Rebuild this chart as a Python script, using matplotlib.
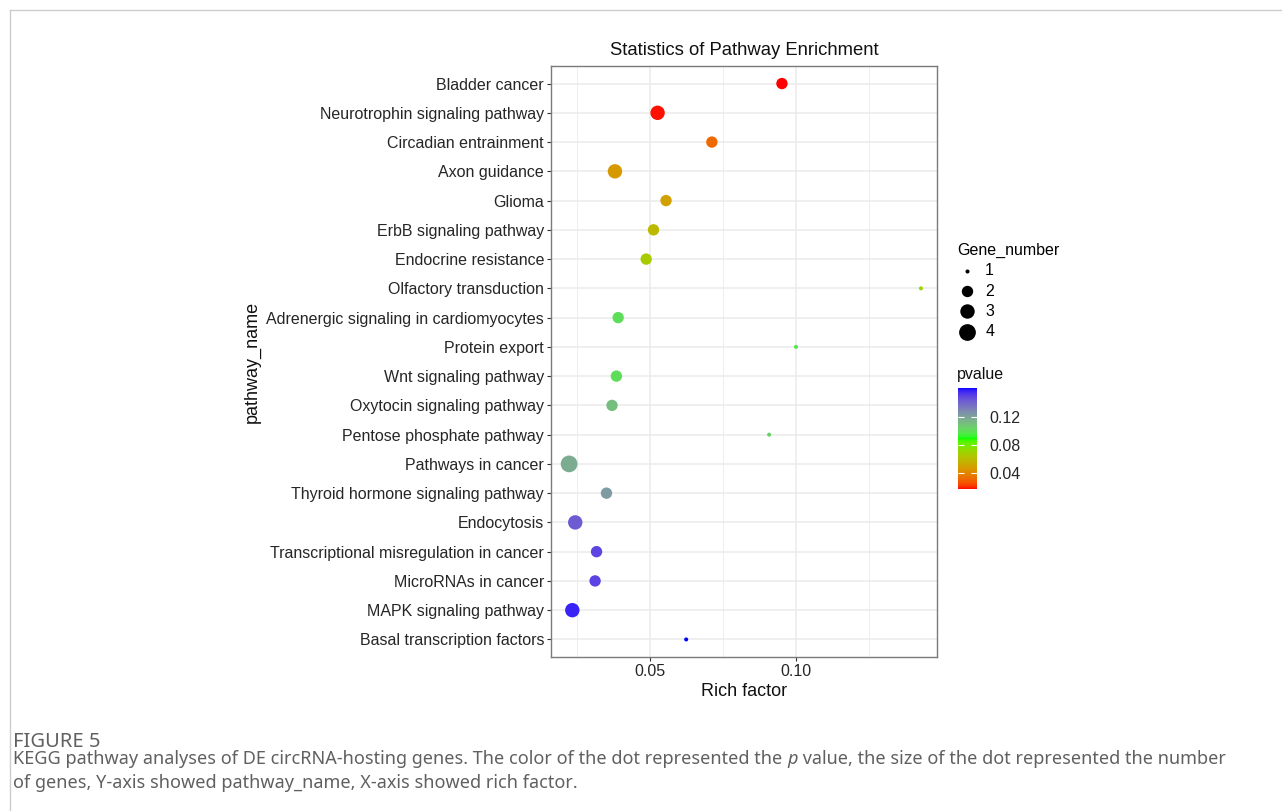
import numpy as np
import matplotlib
matplotlib.use("Agg")
import matplotlib.pyplot as plt
from matplotlib.colors import ListedColormap, Normalize
from matplotlib.lines import Line2D

# data
pathways = ["Bladder cancer", "Neurotrophin signaling pathway", "Circadian entrainment",
            "Axon guidance", "Glioma", "ErbB signaling pathway", "Endocrine resistance",
            "Olfactory transduction", "Adrenergic signaling in cardiomyocytes",
            "Protein export", "Wnt signaling pathway", "Oxytocin signaling pathway",
            "Pentose phosphate pathway", "Pathways in cancer",
            "Thyroid hormone signaling pathway", "Endocytosis",
            "Transcriptional misregulation in cancer", "MicroRNAs in cancer",
            "MAPK signaling pathway", "Basal transcription factors"]
rich_factor = [0.0952, 0.0526, 0.0712, 0.0380, 0.0555, 0.0512, 0.0487, 0.1428,
               0.0391, 0.1000, 0.0385, 0.0370, 0.0908, 0.0223, 0.0351, 0.0244,
               0.0317, 0.0312, 0.0234, 0.0624]
gene_number = [2, 3, 2, 3, 2, 2, 2, 1, 2, 1, 2, 2, 1, 4, 2, 3, 2, 2, 3, 1]
pvalue = [0.0171, 0.0182, 0.0315, 0.0467, 0.0495, 0.0590, 0.0665, 0.0710,
          0.1000, 0.0980, 0.1000, 0.1110, 0.1050, 0.1170, 0.1230, 0.1430,
          0.1490, 0.1500, 0.1570, 0.1614]
size_levels = [1, 2, 3, 4]
cbar_ticks = [0.04, 0.08, 0.12]
x_ticks = [0.05, 0.10]


def srgb_to_lab(rgb):
    rgb = np.asarray(rgb, float)
    c = np.where(rgb <= 0.04045, rgb / 12.92, ((rgb + 0.055) / 1.055) ** 2.4)
    m = np.array([[0.4124, 0.3576, 0.1805],
                  [0.2126, 0.7152, 0.0722],
                  [0.0193, 0.1192, 0.9505]])
    xyz = c @ m.T / np.array([0.95047, 1.0, 1.08883])
    f = np.where(xyz > 0.008856, np.cbrt(xyz), 7.787 * xyz + 16 / 116)
    return np.stack([116 * f[..., 1] - 16, 500 * (f[..., 0] - f[..., 1]),
                     200 * (f[..., 1] - f[..., 2])], axis=-1)


def lab_to_srgb(lab):
    L, a, b = lab[..., 0], lab[..., 1], lab[..., 2]
    fy = (L + 16) / 116
    fx = fy + a / 500
    fz = fy - b / 200
    f = np.stack([fx, fy, fz], axis=-1)
    xyz = np.where(f > 0.206893, f ** 3, (f - 16 / 116) / 7.787)
    xyz = xyz * np.array([0.95047, 1.0, 1.08883])
    minv = np.array([[3.2406, -1.5372, -0.4986],
                     [-0.9689, 1.8758, 0.0415],
                     [0.0557, -0.2040, 1.0570]])
    c = np.clip(xyz @ minv.T, 0, 1)
    return np.where(c <= 0.0031308, 12.92 * c, 1.055 * c ** (1 / 2.4) - 0.055).clip(0, 1)


def lab_ramp(colors, n=256):
    # ggplot style colour ramp, interpolated in CIELAB
    labs = srgb_to_lab(np.array(colors))
    pos = np.linspace(0, 1, len(colors))
    t = np.linspace(0, 1, n)
    out = np.stack([np.interp(t, pos, labs[:, k]) for k in range(3)], axis=-1)
    return ListedColormap(lab_to_srgb(out))


def point_area(n):
    # scale_size: sqrt of rescaled value onto 1..6 mm
    size_mm = 1 + 5 * np.sqrt((np.asarray(n, float) - 1) / 3)
    d_px = 1.5 + 2.54 * size_mm
    return (d_px * 0.72) ** 2


cmap = lab_ramp([[1, 0, 0], [0, 1, 0], [0, 0, 1]])
norm = Normalize(vmin=min(pvalue), vmax=max(pvalue))

plt.rcParams['font.family'] = ['Liberation Sans', 'DejaVu Sans']
W, H = 1282, 811
fig = plt.figure(figsize=(W / 100, H / 100), dpi=100)

ax = fig.add_axes([551 / W, 1 - 657 / H, 386 / W, 591 / H])
ypos = np.arange(len(pathways))
ax.scatter(rich_factor, ypos, s=point_area(gene_number), c=pvalue, cmap=cmap,
           norm=norm, linewidths=0, zorder=3)
ax.set_ylim(len(pathways) - 0.4, -0.6)
ax.set_xlim(0.0161, 0.1483)
ax.set_yticks(ypos)
ax.set_yticklabels(pathways)
ax.set_xticks(x_ticks)
ax.set_xticklabels(["0.05", "0.10"])
ax.set_xticks([0.025, 0.075, 0.125], minor=True)
ax.grid(True, which='major', color='#ebebeb', lw=1.1, zorder=0)
ax.grid(True, which='minor', axis='x', color='#ebebeb', lw=0.6, zorder=0)
ax.set_axisbelow(True)
ax.tick_params(which='major', length=3, width=0.8, color='#333333',
               labelsize=11.5, labelcolor='#262626', pad=2)
ax.tick_params(which='minor', length=0)
for sp in ax.spines.values():
    sp.set_color('#7a7a7a')
    sp.set_linewidth(1.0)
ax.set_xlabel("Rich factor", fontsize=13, color='#111111', labelpad=3)
ax.set_ylabel("pathway_name", fontsize=13, color='#111111', labelpad=4)
ax.set_title("Statistics of Pathway Enrichment", fontsize=13.3, color='#111111', pad=8)

# size legend
handles = [plt.scatter([], [], s=point_area(n), color='black', linewidths=0)
           for n in size_levels]
leg = fig.legend(handles, [str(n) for n in size_levels], title="Gene_number",
                 loc='upper left', bbox_to_anchor=(946 / W, 1 - 232 / H),
                 frameon=False, fontsize=11.5, title_fontsize=11.5,
                 labelspacing=0.32, handletextpad=0.55, borderpad=0.2,
                 handlelength=1.2, alignment='left')

# colour bar
cax = fig.add_axes([958 / W, 1 - 489 / H, 19 / W, 101 / H])
sm = plt.cm.ScalarMappable(norm=norm, cmap=cmap)
cb = fig.colorbar(sm, cax=cax, ticks=cbar_ticks)
cb.outline.set_visible(False)
cb.ax.set_yticklabels(["0.04", "0.08", "0.12"])
cb.ax.yaxis.set_ticks_position('both')
cb.ax.tick_params(direction='in', length=4, width=0.8, color='white',
                  labelsize=11.5, labelcolor='#262626', pad=9, labelleft=False,
                  labelright=True)
fig.text(957 / W, 1 - 375 / H, "pvalue", fontsize=11.5, color='#111111', va='center')

# frame lines and caption
fig.add_artist(Line2D([9.5 / W, 1], [1 - 9.5 / H, 1 - 9.5 / H], color='#cccccc', lw=1.0))
fig.add_artist(Line2D([9.5 / W, 9.5 / W], [0, 1 - 9.5 / H], color='#cccccc', lw=1.0))

cap_font = ['Noto Sans', 'DejaVu Sans']
cap_size = 13.0
cap_color = '#606060'
fig.text(13 / W, 1 - 742 / H, "FIGURE 5", fontsize=14.5, color=cap_color,
         family=cap_font, va='center')
t1 = fig.text(13 / W, 1 - 768 / H,
              "KEGG pathway analyses of DE circRNA-hosting genes. The color of the dot represented the ",
              fontsize=cap_size, color=cap_color, family=cap_font, va='bottom')
fig.canvas.draw()
bb = t1.get_window_extent()
t2 = fig.text(bb.x1 / W, bb.y0 / H, "p", fontsize=cap_size, color=cap_color,
              family=cap_font, style='italic', va='bottom')
fig.canvas.draw()
bb2 = t2.get_window_extent()
fig.text(bb2.x1 / W + 1 / W, bb.y0 / H,
         " value, the size of the dot represented the number",
         fontsize=cap_size, color=cap_color, family=cap_font, va='bottom')
fig.text(13 / W, 1 - 792 / H,
         "of genes, Y-axis showed pathway_name, X-axis showed rich factor.",
         fontsize=cap_size, color=cap_color, family=cap_font, va='bottom')

fig.savefig("out.png", dpi=100)
